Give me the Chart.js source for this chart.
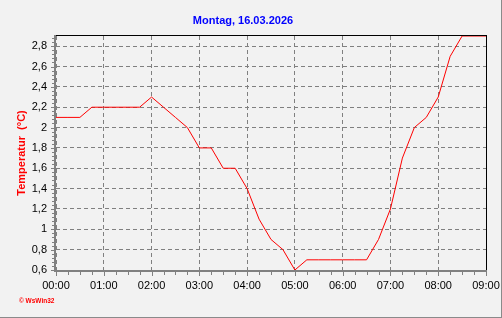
<!DOCTYPE html>
<html><head><meta charset="utf-8">
<script src="https://cdn.jsdelivr.net/npm/chart.js@4/dist/chart.umd.min.js"></script>
<style>html,body{margin:0;padding:0;background:#f2f2f2;overflow:hidden}
#wrap{position:relative;width:502px;height:318px}</style></head>
<body><div id="wrap"><canvas id="c" width="502" height="318"></canvas></div>
<script>
const chartTitle = 'Montag, 16.03.2026';
const yAxisTitle = 'Temperatur  (°C)';
const copyrightText = '© WsWin32';
const times = ['00:00','00:15','00:30','00:45','01:00','01:15','01:30','01:45','02:00','02:15','02:30','02:45',
  '03:00','03:15','03:30','03:45','04:00','04:15','04:30','04:45','05:00','05:15','05:30','05:45',
  '06:00','06:15','06:30','06:45','07:00','07:15','07:30','07:45','08:00','08:15','08:30','08:45','09:00'];
const temperatures = [2.1,2.1,2.1,2.2,2.2,2.2,2.2,2.2,2.3,2.2,2.1,2.0,
  1.8,1.8,1.6,1.6,1.4,1.1,0.9,0.8,0.6,0.7,0.7,0.7,
  0.7,0.7,0.7,0.9,1.2,1.7,2.0,2.1,2.3,2.7,2.9,2.9,2.9];
const xTickLabels = ['00:00','01:00','02:00','03:00','04:00','05:00','06:00','07:00','08:00','09:00'];
const yTickValues = [0.6,0.8,1.0,1.2,1.4,1.6,1.8,2.0,2.2,2.4,2.6,2.8];
const yMin = 0.6, yMax = 2.9, yStep = 0.2, yMinorStep = 0.04;

const toHours = t => { const p = t.split(':').map(Number); return p[0] + p[1] / 60; };
const points = times.map((t, i) => ({ x: toHours(t), y: temperatures[i] }));
const FONT = "'Liberation Sans', Arial, sans-serif";

const deco = {
  id: 'deco',
  beforeDraw(chart) {
    const c = chart.ctx;
    c.save(); c.fillStyle = '#f2f2f2'; c.fillRect(0, 0, chart.width, chart.height); c.restore();
  },
  afterDraw(chart) {
    const c = chart.ctx, a = chart.chartArea, xs = chart.scales.x, ys = chart.scales.y;
    c.save();
    c.fillStyle = '#000';
    c.fillRect(a.left, a.top - 1, a.right - a.left + 1, 1);
    c.fillRect(Math.round(a.right), a.top - 1, 1, a.bottom - a.top + 2);
    c.fillStyle = '#808080';
    c.fillRect(a.left - 2, a.top - 1, 2, a.bottom - a.top + 3);
    for (let k = 0; yMin + k * yMinorStep <= yMax + 1e-6; k++) {
      const v = yMin + k * yMinorStep;
      const y = Math.round(ys.getPixelForValue(v));
      if (k % 5 === 0) c.fillRect(a.left - 5, y, 3, 1); else c.fillRect(a.left - 4, y, 2, 1);
    }
    c.fillRect(a.left - 2, a.bottom, a.right - a.left + 3, 2);
    for (let m = 0; m <= 9 * 60; m += 15) {
      const x = Math.round(xs.getPixelForValue(m / 60));
      c.fillRect(x, a.bottom + 2, 1, m % 60 === 0 ? 4 : 3);
    }
    c.fillStyle = '#8a8a8a';
    c.fillRect(chart.width - 1, 0, 1, chart.height);
    c.fillRect(0, chart.height - 1, chart.width, 1);
    c.fillStyle = '#ff0000';
    c.font = "bold 6.5px " + FONT;
    c.textBaseline = 'alphabetic';
    c.textAlign = 'left';
    c.fillText(copyrightText, 19, 303);
    c.restore();
  }
};

new Chart(document.getElementById('c'), {
  type: 'line',
  data: { datasets: [{ data: points, borderColor: '#ff0000', borderWidth: 1, pointRadius: 0, tension: 0, clip: false, fill: false }] },
  options: {
    responsive: false, animation: false, devicePixelRatio: 1,
    layout: { padding: { left: 0, right: 16, top: 0, bottom: 0 } },
    plugins: {
      legend: { display: false }, tooltip: { enabled: false },
      title: { display: true, text: chartTitle, color: '#0000ff', font: { family: FONT, size: 11, weight: 'bold' }, padding: { top: 14, bottom: 8.8 } }
    },
    scales: {
      x: {
        type: 'linear', min: 0, max: 9,
        ticks: { stepSize: 1, autoSkip: false, maxRotation: 0, padding: 9, color: '#000', font: { family: FONT, size: 11 },
          callback: v => xTickLabels[Math.round(v)] },
        grid: { color: '#808080', lineWidth: 1, drawTicks: false },
        border: { display: false, dash: [4, 3] },
        afterFit: s => { s.height = 48; s.paddingLeft = 0; s.paddingRight = 0; }
      },
      y: {
        type: 'linear', min: yMin, max: yMax,
        ticks: { padding: 9, color: '#000', font: { family: FONT, size: 11 },
          callback: v => String(Math.round(v * 10) / 10).replace('.', ',') },
        afterBuildTicks: s => { s.ticks = yTickValues.map(v => ({ value: v })); },
        grid: { color: '#808080', lineWidth: 1, drawTicks: false },
        border: { display: false, dash: [4, 3] },
        title: { display: true, text: yAxisTitle, color: '#ff0000', font: { family: FONT, size: 11, weight: 'bold' }, padding: { top: 15, bottom: 0 } },
        afterFit: s => { s.width = 56; s.paddingTop = 0; s.paddingBottom = 0; }
      }
    }
  },
  plugins: [deco]
});
</script></body></html>
